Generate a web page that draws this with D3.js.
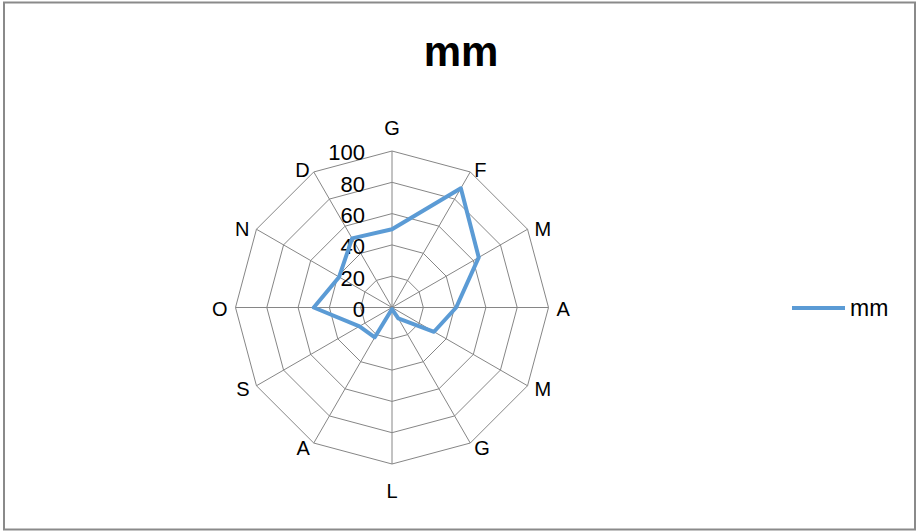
<!DOCTYPE html>
<html>
<head>
<meta charset="utf-8">
<script src="https://cdn.jsdelivr.net/npm/d3@7"></script>
<style>
  body { margin: 0; background: #fff; }
  svg { display: block; font-family: "Liberation Sans", Arial, sans-serif; }
</style>
</head>
<body>
<div id="chart"></div>
<script>
// Data
var months = ["G", "F", "M", "A", "M", "G", "L", "A", "S", "O", "N", "D"];
var mm = [50, 88, 64, 41, 31, 8, 1, 22, 24, 50, 39, 51];
var ticks = [0, 20, 40, 60, 80, 100];
var seriesName = "mm";
var titleText = "mm";

var width = 917, height = 531;
var cx = 392, cy = 307.5, radius = 156.5;

var svg = d3.select("#chart")
  .append("svg")
    .attr("width", width)
    .attr("height", height);

// chart frame
svg.append("rect")
  .attr("x", 4)
  .attr("y", 2.5)
  .attr("width", 911)
  .attr("height", 527)
  .attr("fill", "#fff")
  .attr("stroke", "#8a8a8a")
  .attr("stroke-width", 2);

// Scales
var r = d3.scaleLinear().domain([0, 100]).range([0, radius]);
var angle = d3.scalePoint()
  .domain(d3.range(months.length))
  .range([0, 2 * Math.PI * (months.length - 1) / months.length]);

function px(i, v) { return cx + r(v) * Math.sin(angle(i)); }
function py(i, v) { return cy - r(v) * Math.cos(angle(i)); }

var g = svg.append("g");

// Rings (polygons)
ticks.filter(function(t) { return t > 0; }).forEach(function(t) {
  g.append("polygon")
    .attr("points", months.map(function(m, i) { return px(i, t) + "," + py(i, t); }).join(" "))
    .attr("fill", "none")
    .attr("stroke", "#868686")
    .attr("stroke-width", 1);
});

// Spokes
g.selectAll(".spoke")
  .data(months)
  .enter().append("line")
    .attr("class", "spoke")
    .attr("x1", cx).attr("y1", cy)
    .attr("x2", function(d, i) { return px(i, 100); })
    .attr("y2", function(d, i) { return py(i, 100); })
    .attr("stroke", "#868686")
    .attr("stroke-width", 1);

// Tick labels
g.selectAll(".tick")
  .data(ticks)
  .enter().append("text")
    .attr("class", "tick")
    .attr("x", cx - 27)
    .attr("y", function(d) { return cy - r(d) + 9.3; })
    .attr("text-anchor", "end")
    .style("font-size", "22px")
    .attr("fill", "#000")
    .text(function(d) { return d; });

// Category labels
g.selectAll(".cat")
  .data(months)
  .enter().append("text")
    .attr("class", "cat")
    .attr("x", function(d, i) {
      var s = Math.sin(angle(i));
      return px(i, 100) + (Math.abs(s) < 0.01 ? 0 : s * 8);
    })
    .attr("y", function(d, i) {
      var c = Math.cos(angle(i));
      var vy = py(i, 100);
      if (c > 0.99) return vy - 23 + 7;
      if (c < -0.99) return vy + 27 + 7;
      return vy - c * 4 + 1.5 + 7;
    })
    .attr("text-anchor", function(d, i) {
      var s = Math.sin(angle(i));
      return Math.abs(s) < 0.01 ? "middle" : (s > 0 ? "start" : "end");
    })
    .style("font-size", "20px")
    .attr("fill", "#000")
    .text(function(d) { return d; });

// Series line
var line = d3.lineRadial()
  .angle(function(d, i) { return angle(i); })
  .radius(function(d) { return r(d); })
  .curve(d3.curveLinearClosed);

g.append("path")
  .datum(mm)
  .attr("transform", "translate(" + cx + "," + cy + ")")
  .attr("d", line)
  .attr("fill", "none")
  .attr("stroke", "#5b9bd5")
  .attr("stroke-width", 4)
  .attr("stroke-linejoin", "round");

// Title
svg.append("text")
  .attr("x", 461)
  .attr("y", 66)
  .attr("text-anchor", "middle")
  .style("font-size", "42px")
  .style("font-weight", "bold")
  .text(titleText);

// Legend
svg.append("line")
  .attr("x1", 792).attr("x2", 845)
  .attr("y1", 308).attr("y2", 308)
  .attr("stroke", "#5b9bd5")
  .attr("stroke-width", 4);
svg.append("text")
  .attr("x", 850)
  .attr("y", 316)
  .style("font-size", "23px")
  .text(seriesName);
</script>
</body>
</html>
